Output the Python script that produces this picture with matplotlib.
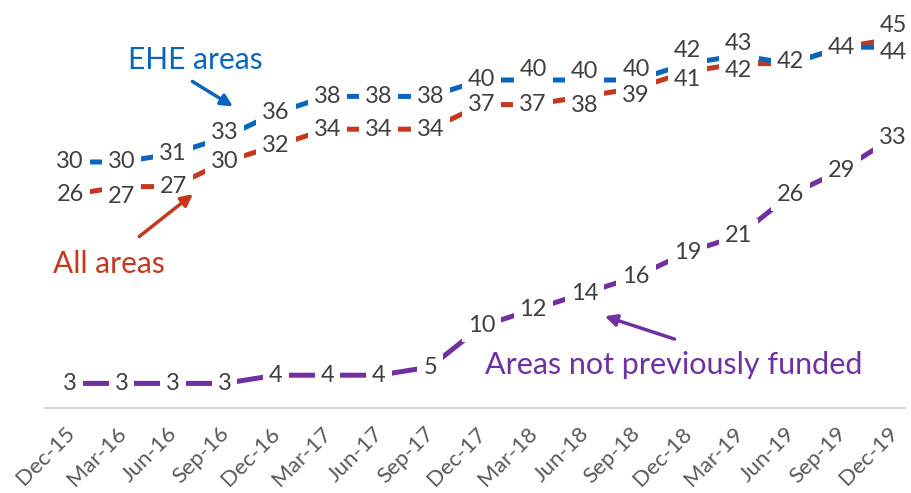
import matplotlib.pyplot as plt
import matplotlib.transforms as mtransforms

plt.rcParams['font.family'] = ['Lato', 'DejaVu Sans']

# quarterly series
quarters = ['Dec-15', 'Mar-16', 'Jun-16', 'Sep-16', 'Dec-16', 'Mar-17', 'Jun-17', 'Sep-17',
            'Dec-17', 'Mar-18', 'Jun-18', 'Sep-18', 'Dec-18', 'Mar-19', 'Jun-19', 'Sep-19', 'Dec-19']
ehe_areas = [30, 30, 31, 33, 36, 38, 38, 38, 40, 40, 40, 40, 42, 43, 42, 44, 44]
all_areas = [26, 27, 27, 30, 32, 34, 34, 34, 37, 37, 38, 39, 41, 42, 42, 44, 45]
not_funded = [3, 3, 3, 3, 4, 4, 4, 5, 10, 12, 14, 16, 19, 21, 26, 29, 33]

BLUE = '#0A66BD'
RED = '#C6381E'
PURPLE = '#7030A0'
LABEL_GREY = '#404040'
TICK_GREY = '#595959'

# label nudges in pixels (positive = down), None = no label
ehe_nudge = {3: -5, 9: -10, 10: -8, 11: -10, 12: -13, 13: -12, 14: -2, 16: 5}
all_nudge = {1: 10, 10: 9, 11: 7, 12: 8, 13: 7, 14: None, 15: None, 16: -14}

fig = plt.figure(figsize=(9.12, 4.93), dpi=100)
ax = fig.add_axes([45 / 912, 85 / 493, 860 / 912, 408 / 493])
x = list(range(len(quarters)))

for vals, col in [(not_funded, PURPLE), (all_areas, RED), (ehe_areas, BLUE)]:
    ax.plot(x, vals, color=col, lw=3.6, solid_capstyle='butt', zorder=2)


def add_labels(vals, nudge):
    for i, v in enumerate(vals):
        n = nudge.get(i, 0)
        if n is None:
            continue
        off = (0, -n * 0.72)
        # white box first (hides the line), then the digits on top
        ax.annotate(str(v), (i, v), xytext=off, textcoords='offset points',
                    ha='center', va='center', fontsize=17, color='none',
                    bbox=dict(boxstyle='square,pad=0.25', fc='white', ec='none'), zorder=3)
        ax.annotate(str(v), (i, v), xytext=off, textcoords='offset points',
                    ha='center', va='center', fontsize=17, color=LABEL_GREY, zorder=4)


add_labels(not_funded, {})
add_labels(all_areas, all_nudge)
add_labels(ehe_areas, ehe_nudge)

# callouts
ax.text(2.43, 42.4, 'EHE areas', color=BLUE, fontsize=21.5, ha='center', va='center')
ax.annotate('', xy=(3.21, 36.6), xytext=(2.33, 40.0),
            arrowprops=dict(arrowstyle='-|>,head_width=0.35,head_length=0.7', color=BLUE, lw=2.5))
ax.text(-0.33, 17.6, 'All areas', color=RED, fontsize=21.5, ha='left', va='center')
ax.annotate('', xy=(2.43, 26.3), xytext=(1.30, 20.7),
            arrowprops=dict(arrowstyle='-|>,head_width=0.35,head_length=0.7', color=RED, lw=2.5))
ax.text(8.07, 5.24, 'Areas not previously funded', color=PURPLE, fontsize=22, ha='left', va='center')
ax.annotate('', xy=(10.34, 11.3), xytext=(11.80, 8.3),
            arrowprops=dict(arrowstyle='-|>,head_width=0.35,head_length=0.7', color=PURPLE, lw=2.5))

ax.set_xlim(-0.49, 16.23)
ax.set_ylim(0, 408 / 8.2)
for s in ['top', 'right', 'left']:
    ax.spines[s].set_visible(False)
ax.spines['bottom'].set_color('#D9D9D9')
ax.spines['bottom'].set_linewidth(1.5)
ax.set_yticks([])
ax.set_xticks(x)
ax.set_xticklabels(quarters, rotation=45, ha='right', rotation_mode='anchor',
                   fontsize=16, color=TICK_GREY)
ax.tick_params(axis='x', length=0, pad=11)
shift = mtransforms.ScaledTranslation(-6 / 100, 0, fig.dpi_scale_trans)
for lbl in ax.get_xticklabels():
    lbl.set_transform(lbl.get_transform() + shift)

fig.savefig('out.png', dpi=100)
